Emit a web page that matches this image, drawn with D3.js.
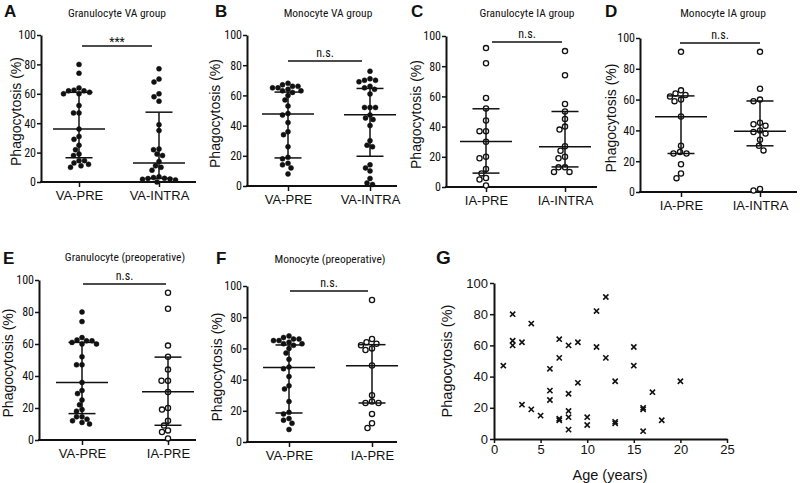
<!DOCTYPE html>
<html><head><meta charset="utf-8">
<script src="https://cdn.jsdelivr.net/npm/d3@7"></script>
<style>
body{margin:0;background:#fff;}
svg{display:block;}
</style></head>
<body><svg id="c" width="800" height="483"></svg>
<script>
// ---------- DATA ----------
const yTicks = [0, 20, 40, 60, 80, 100];
const catsVA = ["VA-PRE", "VA-INTRA"];
const catsIA = ["IA-PRE", "IA-INTRA"];
const catsPre = ["VA-PRE", "IA-PRE"];

const granVaPre   = [80, 74, 64, 62.5, 62, 62, 61, 60, 60, 52, 47, 47, 36, 31, 29, 25, 22, 19, 18, 14.5, 13, 11, 10, 12, 14.5];
const granVaIntra = [77, 70, 68, 60, 58, 55, 39, 35, 22.5, 22, 19, 18, 14, 11, 10, 8, 3.5, 3, 2.5, 2.3, 2, 1.8, 1.4, 0];
const monoVaPre   = [68, 67, 66, 66, 65, 65, 64, 63, 63, 62, 60, 57, 53, 48, 47, 42, 36, 34, 26, 19, 18, 15, 14, 12, 8];
const monoVaIntra = [76, 71, 70, 69, 70, 66, 65, 64, 61, 52, 52, 52, 47, 45, 44, 40, 30, 27, 26, 14, 12, 10, 5, 2, 1];
const granIaPre   = [92, 82, 59, 52, 44, 37, 37, 30, 20, 19, 12, 9, 6, 5, 1];
const granIaIntra = [90, 74, 55, 50, 45, 40, 38, 27, 24, 20, 19, 13, 13, 10, 10];
const monoIaPre   = [91, 66, 64, 63, 62, 60, 59, 49, 30, 26, 25, 25, 18, 12, 9];
const monoIaIntra = [91, 67, 60, 59, 45, 44, 43, 40, 39, 38, 34, 30, 27, 2, 1];

// [median, Q1, Q3]
const statGranVaPre   = [36, 16.5, 61];
const statGranVaIntra = [13, 2.5, 47.5];
const statMonoVaPre   = [47.7, 18.6, 62.2];
const statMonoVaIntra = [47.2, 19.7, 64.6];
const statGranIaPre   = [30.2, 9.2, 51.8];
const statGranIaIntra = [26.7, 13.3, 50];
const statMonoIaPre   = [48.9, 25, 62.4];
const statMonoIaIntra = [39.5, 30, 59.1];

const sigLabels = ["***", "n.s.", "n.s.", "n.s.", "n.s.", "n.s."];
const titles = ["Granulocyte  VA group", "Monocyte VA group", "Granulocyte IA group", "Monocyte IA group",
                "Granulocyte (preoperative)", "Monocyte (preoperative)"];
const letters = ["A", "B", "C", "D", "E", "F", "G"];

const ageYears = [1, 2, 2, 2, 3, 3, 4, 4, 5, 6, 6, 6, 7, 7, 7, 7, 8, 8, 8, 8, 8, 9, 9, 10, 10, 11, 11, 12, 12, 13, 13, 13, 15, 15, 16, 16, 16, 17, 18, 20];
const phagoG   = [47, 80, 63, 60, 62, 22, 74, 19, 15, 45, 31, 25, 64, 52, 13, 12, 60, 29, 18, 14, 6, 62, 36, 14, 9, 82, 59, 91, 52, 37, 11, 10, 59, 47, 20, 19, 5, 30, 12, 37];
const xTicksG = [0, 5, 10, 15, 20, 25];

// ---------- LAYOUT ----------
const svg = d3.select("#c");
const INK = "#111";
const NARROW = "'Roboto Condensed', 'Liberation Sans Narrow', 'Arial Narrow', sans-serif";
const REG = "'Liberation Sans', Arial, Helvetica, sans-serif";

const panels = [
  {cats: catsVA, vals: [granVaPre, granVaIntra], stats: [statGranVaPre, statGranVaIntra], open: [false, false],
   ax: 41, end: 196, top: 35, bot: 182, c: [79, 159], lx: 21, title: [117, 17], letter: [4, 17], sig: [82, 152, 46]},
  {cats: catsVA, vals: [monoVaPre, monoVaIntra], stats: [statMonoVaPre, statMonoVaIntra], open: [false, false],
   ax: 247, end: 397, top: 35, bot: 186, c: [288, 370], lx: 220, title: [328, 17], letter: [215, 17], sig: [288, 362, 61]},
  {cats: catsIA, vals: [granIaPre, granIaIntra], stats: [statGranIaPre, statGranIaIntra], open: [true, true],
   ax: 446, end: 597, top: 36, bot: 187, c: [486, 565], lx: 421, title: [527, 17], letter: [411, 17], sig: [492, 562, 42]},
  {cats: catsIA, vals: [monoIaPre, monoIaIntra], stats: [statMonoIaPre, statMonoIaIntra], open: [true, true],
   ax: 640, end: 797, top: 38, bot: 192, c: [681, 760], lx: 616, title: [723, 17], letter: [605, 17], sig: [680, 760, 43]},
  {cats: catsPre, vals: [granVaPre, granIaPre], stats: [statGranVaPre, statGranIaPre], open: [false, true],
   ax: 39, end: 196, top: 280, bot: 440, c: [82, 168], lx: 13, title: [125, 261], letter: [3, 264], sig: [83, 166, 284]},
  {cats: catsPre, vals: [monoVaPre, monoIaPre], stats: [statMonoVaPre, statMonoIaPre], open: [false, true],
   ax: 247, end: 397, top: 286, bot: 442, c: [289, 372], lx: 222, title: [330, 263], letter: [216, 264], sig: [290, 368, 291]},
];

function swarm(vals, y, cx, minD) {
  const order = vals.map((v, i) => i).sort((a, b) => vals[b] - vals[a]);
  const placed = [];
  const out = new Array(vals.length);
  order.forEach(i => {
    const py = y(vals[i]);
    let best = 0;
    for (let k = 0; k < 200; k++) {
      const dx = (k % 2 === 0 ? 1 : -1) * Math.ceil(k / 2) * 0.5;
      const ok = placed.every(p => (p.x - (cx + dx)) ** 2 + (p.y - py) ** 2 >= minD * minD);
      if (ok) { best = dx; break; }
    }
    const pt = {x: cx + best, y: py};
    placed.push(pt);
    out[i] = pt;
  });
  return out;
}

panels.forEach((P, pi) => {
  const g = svg.append("g");
  const y = d3.scaleLinear().domain([0, 100]).range([P.bot, P.top]);
  const x = d3.scalePoint().domain(P.cats).range(P.c);

  // y axis
  const ya = g.append("g").attr("transform", `translate(${P.ax},0)`)
    .call(d3.axisLeft(y).tickValues(yTicks).tickSize(4).tickSizeOuter(0).tickPadding(1));
  ya.select(".domain").attr("stroke-width", 2).attr("stroke", INK);
  ya.selectAll(".tick line").attr("stroke-width", 1.5).attr("stroke", INK);
  ya.selectAll("text").attr("font-family", NARROW).attr("font-size", 12).attr("fill", INK);

  // x axis
  const xa = g.append("g").attr("transform", `translate(0,${P.bot})`)
    .call(d3.axisBottom(x).tickSize(5).tickSizeOuter(0).tickPadding(4));
  xa.select(".domain").remove();
  xa.append("line").attr("x1", P.ax - 1).attr("x2", P.end).attr("stroke", INK).attr("stroke-width", 2);
  xa.selectAll(".tick line").attr("stroke-width", 1.5).attr("stroke", INK);
  xa.selectAll("text").attr("font-family", REG).attr("font-size", 13).attr("fill", INK);

  // y label
  g.append("text").attr("font-family", REG).attr("font-size", 14).attr("fill", INK)
    .attr("text-anchor", "middle")
    .attr("transform", `translate(${P.lx},${(P.top + P.bot) / 2 + 3}) rotate(-90)`)
    .text("Phagocytosis (%)");

  // title and letter
  g.append("text").attr("font-family", NARROW).attr("font-size", 11.5).attr("fill", INK)
    .attr("text-anchor", "middle").attr("x", P.title[0]).attr("y", P.title[1]).text(titles[pi]);
  g.append("text").attr("font-family", REG).attr("font-size", 17).attr("font-weight", "bold").attr("fill", INK)
    .attr("x", P.letter[0]).attr("y", P.letter[1]).text(letters[pi]);

  // significance bar
  g.append("line").attr("x1", P.sig[0]).attr("x2", P.sig[1]).attr("y1", P.sig[2]).attr("y2", P.sig[2])
    .attr("stroke", INK).attr("stroke-width", 1.4);
  g.append("text").attr("font-family", NARROW).attr("font-size", 12).attr("fill", INK)
    .attr("text-anchor", "middle").attr("x", (P.sig[0] + P.sig[1]) / 2).attr("y", P.sig[2] - (sigLabels[pi] === "***" ? 0 : 4))
    .text(sigLabels[pi]);

  // points + median/IQR bars
  P.cats.forEach((c, ci) => {
    const cx = x(c);
    const open = P.open[ci];
    const pts = swarm(P.vals[ci], y, cx, open ? 6.2 : 5.4);
    g.append("g").selectAll("circle").data(pts).join("circle")
      .attr("cx", d => d.x).attr("cy", d => d.y)
      .attr("r", open ? 2.6 : 2.5)
      .attr("fill", open ? "#fff" : INK)
      .attr("stroke", INK).attr("stroke-width", open ? 1.3 : 0.5);
    const s = P.stats[ci];
    const bars = g.append("g").attr("stroke", INK).attr("stroke-width", 1.5);
    bars.append("line").attr("x1", cx).attr("x2", cx).attr("y1", y(s[1])).attr("y2", y(s[2]));
    bars.append("line").attr("x1", cx - 26).attr("x2", cx + 26).attr("y1", y(s[0])).attr("y2", y(s[0]));
    [s[1], s[2]].forEach(q => bars.append("line").attr("x1", cx - 13.5).attr("x2", cx + 13.5).attr("y1", y(q)).attr("y2", y(q)));
  });
});

// ---------- PANEL G ----------
(function () {
  const g = svg.append("g");
  const x = d3.scaleLinear().domain([0, 25]).range([494, 727]);
  const y = d3.scaleLinear().domain([0, 100]).range([439, 283]);
  const ya = g.append("g").attr("transform", "translate(494,0)")
    .call(d3.axisLeft(y).tickValues(yTicks).tickSize(4).tickSizeOuter(0).tickPadding(2));
  const xa = g.append("g").attr("transform", "translate(0,439)")
    .call(d3.axisBottom(x).tickValues(xTicksG).tickSize(4).tickSizeOuter(0).tickPadding(2));
  [ya, xa].forEach(a => {
    a.select(".domain").attr("stroke-width", 2).attr("stroke", INK);
    a.selectAll(".tick line").attr("stroke-width", 1.5).attr("stroke", INK);
    a.selectAll("text").attr("font-family", REG).attr("font-size", 13).attr("fill", INK);
  });
  g.append("text").attr("font-family", REG).attr("font-size", 14.5).attr("fill", INK)
    .attr("text-anchor", "middle").attr("transform", "translate(452,361) rotate(-90)").text("Phagocytosis (%)");
  g.append("text").attr("font-family", REG).attr("font-size", 14.5).attr("fill", INK)
    .attr("text-anchor", "middle").attr("x", 610).attr("y", 480).text("Age (years)");
  g.append("text").attr("font-family", REG).attr("font-size", 19).attr("font-weight", "bold").attr("fill", INK)
    .attr("x", 436).attr("y", 264).text(letters[6]);
  const pts = ageYears.map((a, i) => ({x: x(a), y: y(phagoG[i])}));
  const h = 2.6;
  g.append("g").attr("stroke", INK).attr("stroke-width", 1.6).selectAll("path").data(pts).join("path")
    .attr("d", d => `M${d.x - h},${d.y - h}L${d.x + h},${d.y + h}M${d.x - h},${d.y + h}L${d.x + h},${d.y - h}`);
})();
</script></body></html>
